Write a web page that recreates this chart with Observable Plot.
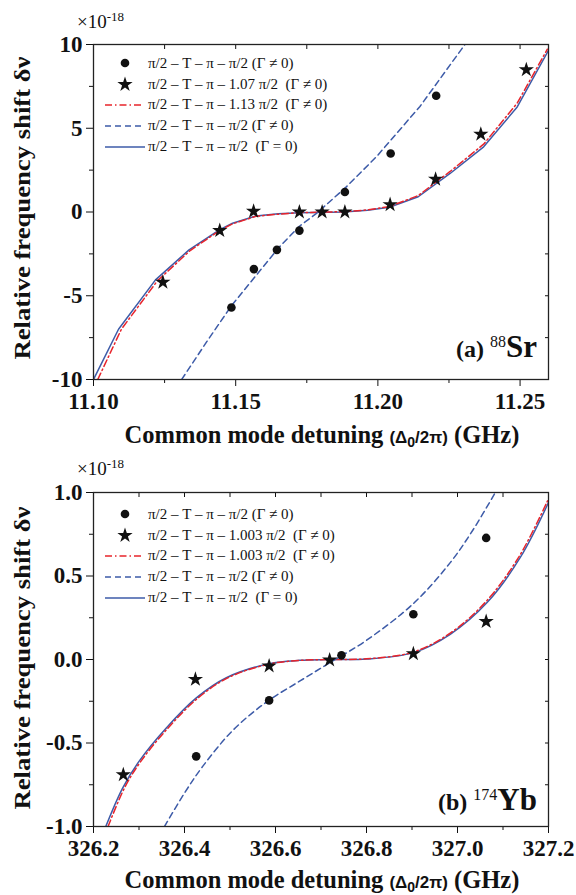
<!DOCTYPE html>
<html>
<head>
<meta charset="utf-8">
<script src="https://cdn.jsdelivr.net/npm/d3@7"></script>
<script src="https://cdn.jsdelivr.net/npm/@observablehq/plot@0.6"></script>
<style>
  html, body { margin: 0; padding: 0; background: #fff; }
  #root { position: relative; width: 576px; height: 895px; overflow: hidden; font-family: "Liberation Serif", "Times New Roman", serif; color: #111; }
  .panel { position: absolute; left: 0; }
  .panel svg { display: block; }
  .panel svg [aria-label$="tick label"] text, .panel svg g[aria-label$="tick label"] { font-weight: bold; }
  .abs { position: absolute; white-space: pre; line-height: 1; }
  .legend { position: absolute; left: 104px; font-size: 15px; }
  .legend .row { height: 20.8px; display: flex; align-items: center; white-space: pre; }
  .legend svg { width: 42px; height: 20px; margin-right: 2px; flex: none; }
  #overlay { position: absolute; left: 0; top: 0; pointer-events: none; }
  .xlab { font-weight: bold; font-size: 24.5px; transform: translate(-50%, -50%); }
  .xlab .sm { font-family: "Liberation Sans", Arial, sans-serif; font-size: 17px; }
  .mult { font-size: 19px; }
  .mult sup { font-size: 13px; vertical-align: 0.55em; }
  .plab { font-weight: bold; font-size: 24px; }
  .plab .iso { font-weight: normal; font-size: 16px; vertical-align: 0.6em; }
  .plab .el { font-size: 31px; }
</style>
</head>
<body>
<div id="root"></div>
<script>
// ---------------- DATA ----------------
// Panel (a) 88Sr, x in GHz, y in units of 1e-18
const srXTicks = [11.10, 11.15, 11.20, 11.25];
const srXMinor = [11.125, 11.175, 11.225];
const srYTicks = [-10, -5, 0, 5, 10];
const srYMinor = [-7.5, -2.5, 2.5, 7.5];
const srCircleX = [11.1485, 11.1564, 11.1645, 11.1724, 11.1884, 11.2045, 11.2205];
const srCircleY = [-5.70, -3.41, -2.26, -1.11, 1.19, 3.49, 6.94];
const srStarX = [11.1244, 11.1444, 11.1563, 11.1724, 11.1804, 11.1884, 11.2043, 11.2203, 11.2362, 11.2522];
const srStarY = [-4.19, -1.11, 0.04, 0.00, 0.00, 0.00, 0.44, 1.96, 4.64, 8.49];
const srSolidX = [11.1000, 11.1088, 11.1218, 11.1336, 11.1444, 11.1489, 11.1571, 11.1650, 11.1724, 11.1880, 11.1964, 11.2040, 11.2142, 11.2254, 11.2372, 11.2490, 11.2601];
const srSolidY = [-10.0, -7.0, -4.05, -2.26, -1.05, -0.67, -0.24, -0.11, -0.04, 0.0, 0.10, 0.28, 0.91, 2.30, 3.89, 6.27, 9.68];
const srRedX = [11.1015, 11.1098, 11.1225, 11.1340, 11.1444, 11.1490, 11.1571, 11.1650, 11.1724, 11.1880, 11.1960, 11.2040, 11.2142, 11.2254, 11.2372, 11.2490, 11.2596];
const srRedY = [-10.0, -7.0, -4.10, -2.30, -1.10, -0.70, -0.26, -0.13, -0.04, 0.02, 0.12, 0.32, 0.98, 2.42, 4.05, 6.50, 9.72];
const srDashX = [11.1310, 11.1400, 11.1485, 11.1571, 11.1653, 11.1724, 11.1783, 11.1889, 11.1995, 11.2148, 11.2295, 11.2310];
const srDashY = [-10.0, -7.7, -5.6, -3.8, -2.1, -0.85, -0.10, 1.50, 3.30, 6.30, 9.74, 10.10];
const srLegend = [
  "π/2 – T – π – π/2 (Γ ≠ 0)",
  "π/2 – T – π – 1.07 π/2  (Γ ≠ 0)",
  "π/2 – T – π – 1.13 π/2  (Γ ≠ 0)",
  "π/2 – T – π – π/2 (Γ ≠ 0)",
  "π/2 – T – π – π/2  (Γ = 0)"
];

// Panel (b) 174Yb
const ybXTicks = [326.2, 326.4, 326.6, 326.8, 327.0, 327.2];
const ybXMinor = [326.3, 326.5, 326.7, 326.9, 327.1];
const ybYTicks = [-1.0, -0.5, 0.0, 0.5, 1.0];
const ybYMinor = [-0.75, -0.25, 0.25, 0.75];
const ybCircleX = [326.4257, 326.586, 326.745, 326.903, 327.063];
const ybCircleY = [-0.580, -0.245, 0.025, 0.271, 0.728];
const ybStarX = [326.2655, 326.424, 326.586, 326.719, 326.903, 327.063];
const ybStarY = [-0.690, -0.119, -0.039, -0.003, 0.035, 0.227];
const ybSolidX = [326.227, 326.264, 326.300, 326.360, 326.426, 326.492, 326.586, 326.653, 326.719, 326.800, 326.903, 326.984, 327.065, 327.138, 327.200];
const ybSolidY = [-1.0, -0.77, -0.61, -0.41, -0.23, -0.109, -0.025, -0.005, 0.0, 0.003, 0.041, 0.151, 0.341, 0.611, 0.94];
const ybRedX = [326.232, 326.268, 326.304, 326.364, 326.430, 326.495, 326.586, 326.653, 326.719, 326.800, 326.903, 326.984, 327.062, 327.135, 327.198];
const ybRedY = [-1.0, -0.77, -0.61, -0.41, -0.23, -0.11, -0.027, -0.006, 0.0, 0.004, 0.045, 0.158, 0.345, 0.615, 0.95];
const ybDashX = [326.356, 326.400, 326.440, 326.506, 326.580, 326.653, 326.719, 326.800, 326.903, 326.984, 327.035, 327.083];
const ybDashY = [-1.0, -0.80, -0.64, -0.425, -0.255, -0.13, -0.02, 0.115, 0.335, 0.58, 0.78, 1.0];
const ybLegend = [
  "π/2 – T – π – π/2 (Γ ≠ 0)",
  "π/2 – T – π – 1.003 π/2  (Γ ≠ 0)",
  "π/2 – T – π – 1.003 π/2  (Γ ≠ 0)",
  "π/2 – T – π – π/2 (Γ ≠ 0)",
  "π/2 – T – π – π/2  (Γ = 0)"
];

// ---------------- STYLE ----------------
const BLUE = "#3d5ba8";
const RED = "#e8242b";
const INK = "#111";
const DASHDOT = "7,3,1.5,3";
const DASH = "6,4";
const STAR_R = 4.8;

const pts = (xs, ys) => xs.map((x, i) => ({x, y: ys[i]}));

function panel(o) {
  const noLabel = () => "";
  const tickText = {fontSize: 23, fontWeight: "bold", fontFamily: "Liberation Serif"};
  return Plot.plot({
    width: 576,
    height: o.height,
    marginTop: o.marginTop,
    marginBottom: o.marginBottom,
    marginLeft: 93,
    marginRight: 28,
    x: {domain: o.xDomain},
    y: {domain: o.yDomain},
    style: {fontFamily: "Liberation Serif", background: "transparent", color: INK},
    marks: [
      Plot.line(pts(o.solidX, o.solidY), {x: "x", y: "y", stroke: BLUE, strokeWidth: 1.5, curve: o.curve, clip: true}),
      Plot.line(pts(o.redX, o.redY), {x: "x", y: "y", stroke: RED, strokeWidth: 1.5, strokeDasharray: DASHDOT, curve: o.curve, clip: true}),
      Plot.line(pts(o.dashX, o.dashY), {x: "x", y: "y", stroke: BLUE, strokeWidth: 1.5, strokeDasharray: DASH, curve: o.curve, clip: true}),
      Plot.dot(pts(o.circleX, o.circleY), {x: "x", y: "y", r: 4.3, fill: INK, stroke: "none"}),
      Plot.dot(pts(o.starX, o.starY), {x: "x", y: "y", r: STAR_R, symbol: "star", fill: INK, stroke: "none"}),
      Plot.axisX({ticks: o.xTicks, tickSize: 7, tickPadding: 6, tickFormat: o.xFmt, label: null, ...tickText}),
      Plot.axisX({ticks: o.xMinor, tickSize: 4, tickFormat: noLabel, label: null}),
      Plot.axisX({anchor: "top", ticks: o.xTicks.concat(o.xMinor), tickSize: -4, tickFormat: noLabel, label: null}),
      Plot.axisY({ticks: o.yTicks, tickSize: 7, tickPadding: 4, tickFormat: o.yFmt, label: null, ...tickText}),
      Plot.axisY({ticks: o.yMinor, tickSize: 4, tickFormat: noLabel, label: null}),
      Plot.axisY({anchor: "right", ticks: o.yTicks.concat(o.yMinor), tickSize: -4, tickFormat: noLabel, label: null}),
      Plot.frame({stroke: "#222", strokeWidth: 1.3})
    ]
  });
}

const root = document.getElementById("root");

function addPanel(top, chart) {
  const d = document.createElement("div");
  d.className = "panel";
  d.style.top = top + "px";
  d.appendChild(chart);
  root.appendChild(d);
}

addPanel(0, panel({
  height: 447, marginTop: 44, marginBottom: 68,
  xDomain: [11.10, 11.26], yDomain: [-10, 10],
  xTicks: srXTicks, xMinor: srXMinor, yTicks: srYTicks, yMinor: srYMinor,
  xFmt: d => d.toFixed(2), yFmt: d => String(d),
  circleX: srCircleX, circleY: srCircleY, starX: srStarX, starY: srStarY,
  solidX: srSolidX, solidY: srSolidY, redX: srRedX, redY: srRedY, dashX: srDashX, dashY: srDashY,
  curve: "linear"
}));

addPanel(447, panel({
  height: 448, marginTop: 45, marginBottom: 69,
  xDomain: [326.2, 327.2], yDomain: [-1, 1],
  xTicks: ybXTicks, xMinor: ybXMinor, yTicks: ybYTicks, yMinor: ybYMinor,
  xFmt: d => d.toFixed(1), yFmt: d => d.toFixed(1),
  circleX: ybCircleX, circleY: ybCircleY, starX: ybStarX, starY: ybStarY,
  solidX: ybSolidX, solidY: ybSolidY, redX: ybRedX, redY: ybRedY, dashX: ybDashX, dashY: ybDashY,
  curve: "catmull-rom"
}));

// ---------------- TEXT OVERLAYS ----------------
function el(html, cls, css) {
  const d = document.createElement("div");
  d.className = "abs " + cls;
  d.innerHTML = html;
  Object.assign(d.style, css);
  root.appendChild(d);
  return d;
}

const swatches = [
  '<svg viewBox="0 0 42 20"><circle cx="21" cy="10" r="4.3" fill="' + INK + '"/></svg>',
  '<svg viewBox="0 0 42 20"><path transform="translate(21,10.5)" d="' + d3.symbol(d3.symbolStar, Math.PI * STAR_R * STAR_R)() + '" fill="' + INK + '"/></svg>',
  '<svg viewBox="0 0 42 20"><line x1="1" x2="39" y1="10" y2="10" stroke="' + RED + '" stroke-width="1.5" stroke-dasharray="' + DASHDOT + '"/></svg>',
  '<svg viewBox="0 0 42 20"><line x1="1" x2="41" y1="10" y2="10" stroke="' + BLUE + '" stroke-width="1.5" stroke-dasharray="' + DASH + '"/></svg>',
  '<svg viewBox="0 0 42 20"><line x1="1" x2="41" y1="10" y2="10" stroke="' + BLUE + '" stroke-width="1.6"/></svg>'
];

function legend(labels, top) {
  const d = document.createElement("div");
  d.className = "legend";
  d.style.top = top + "px";
  d.innerHTML = labels.map((t, i) => '<div class="row">' + swatches[i] + '<span>' + t + '</span></div>').join("");
  root.appendChild(d);
}
legend(srLegend, 53);
legend(ybLegend, 504);

// rotated y-axis titles, drawn in an overlay svg
const yLabel = "Relative frequency shift δν";
const ov = d3.select(root).append("svg").attr("id", "overlay").attr("width", 576).attr("height", 895);
[208, 658].forEach(cy => {
  ov.append("text")
    .attr("transform", `translate(30,${cy}) rotate(-90) scale(1.16,1)`)
    .attr("text-anchor", "middle")
    .attr("font-family", "Liberation Serif")
    .attr("font-weight", "bold")
    .attr("font-size", 23)
    .attr("fill", INK)
    .text(yLabel);
});

const xLabel = 'Common mode detuning <span class="sm">(<b>Δ<sub style="font-size:14px">0</sub>/2</b>π)</span> (GHz)';
el(xLabel, "xlab", {left: "322px", top: "436px"});
el(xLabel, "xlab", {left: "322px", top: "881px"});

el('×10<sup>-18</sup>', "mult", {left: "77px", top: "10px"});
el('×10<sup>-18</sup>', "mult", {left: "77px", top: "457px"});

el('(a) <span class="iso">88</span><span class="el">Sr</span>', "plab", {right: "39px", top: "331px"});
el('(b) <span class="iso">174</span><span class="el">Yb</span>', "plab", {right: "39px", top: "784px"});
</script>
</body>
</html>
